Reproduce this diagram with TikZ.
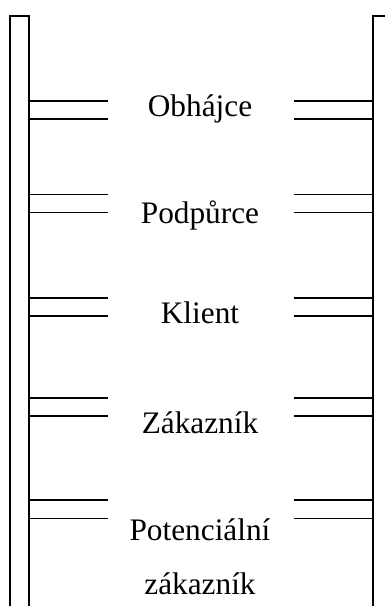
\documentclass[tikz,border=0pt]{standalone}
\usepackage{fontspec}
\setmainfont{Liberation Serif}
\begin{document}
\begin{tikzpicture}[x=1pt,y=-1pt,
  rail/.style={line width=1.6pt},
  rung/.style={line width=1.6pt},
  lbl/.style={font=\fontsize{31.3}{36}\selectfont, anchor=base, inner sep=0pt}]
\useasboundingbox (0,0) rectangle (385,606);
% posts
\draw[rail] (10,606) -- (10,16) -- (29,16) -- (29,606);
\draw[rail] (373,606) -- (373,16) -- (385,16);
% rungs
\foreach \y in {100.7,194.3,297.7,397.7,500}{
  \draw[rung] (29,\y) -- (108,\y);
  \draw[rung] (29,\y+18.3) -- (108,\y+18.3);
  \draw[rung] (294,\y) -- (373,\y);
  \draw[rung] (294,\y+18.3) -- (373,\y+18.3);
}
% labels
\node[lbl] (l1) at (200,116.7) {Obhájce};
\node[lbl] (l2) at (200,223.3) {Podpůrce};
\node[lbl] (l3) at (200,323.3) {Klient};
\node[lbl] (l4) at (200,433.3) {Zákazník};
\node[lbl] (l5) at (200,540) {Potenciální};
\node[lbl] (l6) at (200,594) {zákazník};
\end{tikzpicture}
\end{document}
